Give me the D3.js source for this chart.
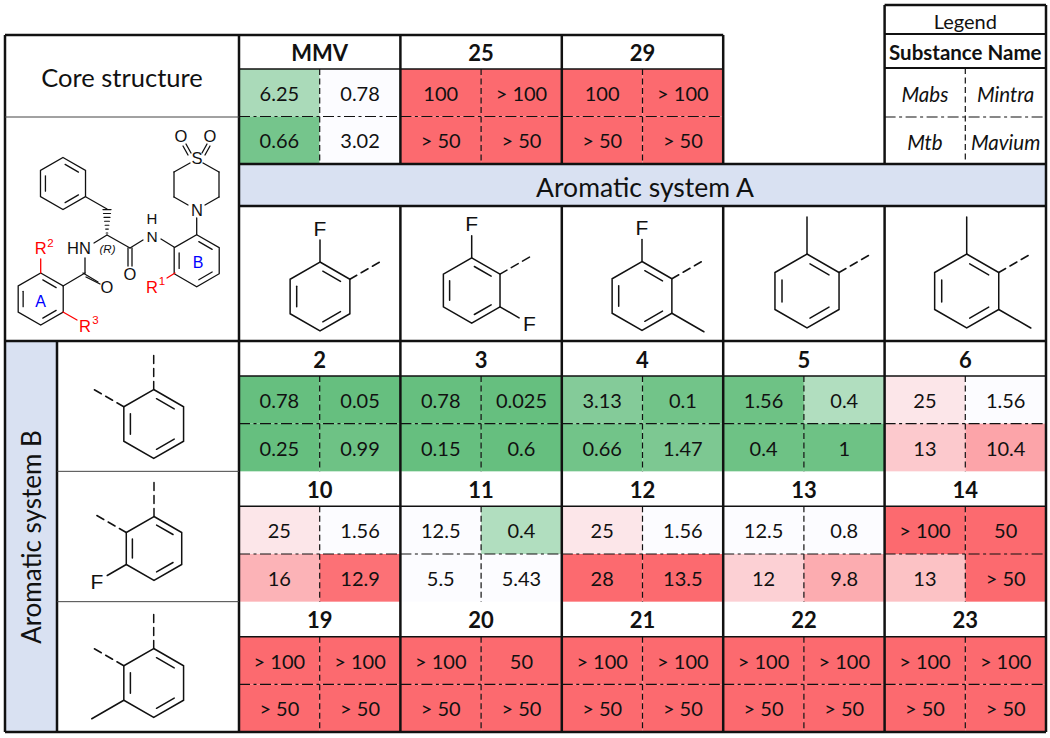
<!DOCTYPE html>
<html>
<head>
<meta charset="utf-8">
<script src="https://cdn.jsdelivr.net/npm/d3@7"></script>
<style>
  html, body { margin: 0; padding: 0; background: #fff; }
  svg { display: block; }
  text { font-family: Lato, sans-serif; fill: #111; }
  .atom { font-family: "Liberation Sans", Arial, sans-serif; }
</style>
</head>
<body>
<div id="vis"></div>
<script>
// compound names, the top block only uses the first three columns
const TOP_NAMES = ["MMV", "25", "29"];
const GRID_NAMES = [
  ["2", "3", "4", "5", "6"],
  ["10", "11", "12", "13", "14"],
  ["19", "20", "21", "22", "23"]
];

// each cell holds: Mabs, Mintra, Mtb, Mavium
const TOP_VALUES = [
  ["6.25", "0.78", "0.66", "3.02"],
  ["100", "> 100", "> 50", "> 50"],
  ["100", "> 100", "> 50", "> 50"]
];
const GRID_VALUES = [
  [["0.78", "0.05", "0.25", "0.99"], ["0.78", "0.025", "0.15", "0.6"], ["3.13", "0.1", "0.66", "1.47"], ["1.56", "0.4", "0.4", "1"], ["25", "1.56", "13", "10.4"]],
  [["25", "1.56", "16", "12.9"], ["12.5", "0.4", "5.5", "5.43"], ["25", "1.56", "28", "13.5"], ["12.5", "0.8", "12", "9.8"], ["> 100", "50", "13", "> 50"]],
  [["> 100", "> 100", "> 50", "> 50"], ["> 100", "50", "> 50", "> 50"], ["> 100", "> 100", "> 50", "> 50"], ["> 100", "> 100", "> 50", "> 50"], ["> 100", "> 100", "> 50", "> 50"]]
];

// shade, -1 full green, 0 white, 1 full red
const TOP_SHADES = [
  [-0.55, 0, -0.9, 0],
  [1, 1, 1, 1],
  [1, 1, 1, 1]
];
const GRID_SHADES = [
  [[-1, -1, -1, -0.95], [-1, -1, -1, -1], [-0.8, -0.92, -0.92, -0.85], [-0.95, -0.5, -0.95, -0.95], [0.15, 0, 0.35, 0.6]],
  [[0.15, 0, 0.5, 0.95], [0, -0.5, 0, 0], [0.15, 0, 1, 1], [0, 0, 0.3, 0.55], [1, 1, 0.4, 1]],
  [[1, 1, 1, 1], [1, 1, 1, 1], [1, 1, 1, 1], [1, 1, 1, 1], [1, 1, 1, 1]]
];

const LEGEND_NAMES = ["Mabs", "Mintra", "Mtb", "Mavium"];

const FRAME_WIDTH = 1050;
const FRAME_HEIGHT = 738;
const LEFT = 5, BAND_RIGHT = 57, GRID_LEFT = 239, RIGHT = 1046;
const TOP = 35, TOP_BOTTOM = 164, BAND_BOTTOM = 206, GRID_TOP = 341, BOTTOM = 732;
const HEADER = 34;
const DASH = "6 3.5", DASH_DOT = "11 3.5 3 3.5";

const FRAME = d3.select("#vis")
  .append("svg")
    .attr("width", FRAME_WIDTH)
    .attr("height", FRAME_HEIGHT);

const X_SCALE = d3.scaleBand().domain(d3.range(5)).range([GRID_LEFT, RIGHT]);
const Y_SCALE = d3.scaleBand().domain(d3.range(3)).range([GRID_TOP, BOTTOM]);
const COLOR = d3.scaleLinear().domain([-1, 0, 1]).range(["#66bf7f", "#fcfcff", "#fc6a6f"]);

function drawLine(g, x1, y1, x2, y2, width, dash, color) {
  g.append("line")
    .attr("x1", x1).attr("y1", y1).attr("x2", x2).attr("y2", y2)
    .attr("stroke", color || "#111")
    .attr("stroke-width", width)
    .attr("stroke-dasharray", dash || null);
}

function drawText(g, x, y, str, size, opts) {
  opts = opts || {};
  return g.append("text")
    .attr("x", x).attr("y", y)
    .attr("text-anchor", opts.anchor || "middle")
    .attr("dominant-baseline", "central")
    .attr("font-size", size)
    .attr("font-weight", opts.weight || null)
    .attr("font-style", opts.style || null)
    .attr("class", opts.cls || null)
    .style("fill", opts.color || null)
    .text(str);
}

// one compound block: name on top, four coloured cells under it
function drawCompound(name, values, shades, x, y, w, h, headH) {
  const g = FRAME.append("g");
  const cw = w / 2, ch = (h - headH) / 2;
  const cells = d3.range(4).map((i) => ({
    v: values[i], s: shades[i],
    x: x + (i % 2) * cw,
    y: y + headH + (i > 1 ? ch : 0)
  }));
  g.selectAll("rect").data(cells).enter().append("rect")
    .attr("x", (d) => d.x).attr("y", (d) => d.y)
    .attr("width", cw).attr("height", ch)
    .attr("fill", (d) => COLOR(d.s));
  g.selectAll("text.val").data(cells).enter().append("text")
    .attr("class", "val")
    .attr("x", (d) => d.x + cw / 2)
    .attr("y", (d) => d.y + ch / 2)
    .attr("text-anchor", "middle")
    .attr("dominant-baseline", "central")
    .attr("font-size", 20)
    .text((d) => d.v);
  drawText(g, x + cw, y + headH / 2 + 0.5, name, 22, {weight: 700});
  drawLine(g, x, y + headH, x + w, y + headH, 1.5);
  drawLine(g, x, y + headH + ch, x + w, y + headH + ch, 1.2, DASH_DOT);
  drawLine(g, x + cw, y + headH, x + cw, y + h, 1.2, DASH);
}

TOP_NAMES.forEach((name, i) => {
  drawCompound(name, TOP_VALUES[i], TOP_SHADES[i], X_SCALE(i), TOP, X_SCALE.bandwidth(), TOP_BOTTOM - TOP, HEADER);
});
GRID_NAMES.forEach((row, r) => {
  row.forEach((name, c) => {
    drawCompound(name, GRID_VALUES[r][c], GRID_SHADES[r][c], X_SCALE(c), Y_SCALE(r), X_SCALE.bandwidth(), Y_SCALE.bandwidth(), 35);
  });
});

// bands
FRAME.append("rect").attr("x", GRID_LEFT).attr("y", TOP_BOTTOM).attr("width", RIGHT - GRID_LEFT).attr("height", BAND_BOTTOM - TOP_BOTTOM).attr("fill", "#d9e1f2");
FRAME.append("rect").attr("x", LEFT).attr("y", GRID_TOP).attr("width", BAND_RIGHT - LEFT).attr("height", BOTTOM - GRID_TOP).attr("fill", "#d9e1f2");

const LABELS = FRAME.append("g");
drawText(LABELS, 645, 187, "Aromatic system A", 26.5);
drawText(LABELS, 0, 0, "Aromatic system B", 26).attr("transform", "translate(31,537) rotate(-90)");
drawText(LABELS, 122, 77, "Core structure", 25.5);

// table rules
const GRID = FRAME.append("g");
[[LEFT, TOP, X_SCALE(3), TOP], [GRID_LEFT, TOP_BOTTOM, RIGHT, TOP_BOTTOM], [GRID_LEFT, BAND_BOTTOM, RIGHT, BAND_BOTTOM],
 [LEFT, GRID_TOP, RIGHT, GRID_TOP], [LEFT, BOTTOM, RIGHT, BOTTOM], [LEFT, TOP, LEFT, BOTTOM], [GRID_LEFT, TOP, GRID_LEFT, BOTTOM],
 [BAND_RIGHT, GRID_TOP, BAND_RIGHT, BOTTOM], [RIGHT, 5, RIGHT, BOTTOM]].forEach((l) => drawLine(GRID, l[0], l[1], l[2], l[3], 2.5));
d3.range(1, 5).forEach((i) => {
  if (i !== 4) drawLine(GRID, X_SCALE(i), TOP, X_SCALE(i), TOP_BOTTOM, 2.5);
  drawLine(GRID, X_SCALE(i), BAND_BOTTOM, X_SCALE(i), BOTTOM, 2.5);
});
drawLine(GRID, LEFT, 117, GRID_LEFT, 117, 1, null, "#444");
Y_SCALE.domain().slice(1).forEach((r) => drawLine(GRID, BAND_RIGHT, Y_SCALE(r), GRID_LEFT, Y_SCALE(r), 1, null, "#444"));

// legend box
const LEGEND = FRAME.append("g");
const LX = X_SCALE(4), LW = X_SCALE.bandwidth();
drawLine(LEGEND, LX, 5, LX, TOP_BOTTOM, 2.5);
drawLine(LEGEND, LX, 5, RIGHT, 5, 2.5);
drawLine(LEGEND, LX, 34, RIGHT, 34, 2);
drawLine(LEGEND, LX, 68, RIGHT, 68, 2);
drawLine(LEGEND, LX, 117, RIGHT, 117, 1.2, DASH_DOT);
drawLine(LEGEND, LX + LW / 2, 68, LX + LW / 2, TOP_BOTTOM, 1.2, DASH);
drawText(LEGEND, LX + LW / 2, 21, "Legend", 20);
drawText(LEGEND, LX + LW / 2, 52, "Substance Name", 20.5, {weight: 700});
LEGEND_NAMES.forEach((n, i) => {
  drawText(LEGEND, LX + LW * (i % 2 ? 0.75 : 0.25), i > 1 ? 142 : 94, n, 20.5, {style: "italic"});
});

// structures
const MOL = FRAME.append("g").attr("fill", "none").attr("stroke-linecap", "round");

function ringPoints(cx, cy, r) {
  return d3.range(6).map((i) => {
    const a = (-90 + 60 * i) * Math.PI / 180;
    return [cx + r * Math.cos(a), cy + r * Math.sin(a)];
  });
}

// benzene ring, vertex 0 on top going clockwise
function drawRing(cx, cy, r, width) {
  const p = ringPoints(cx, cy, r);
  MOL.append("path")
    .attr("d", d3.line()(p) + "Z")
    .attr("stroke", "#111").attr("stroke-width", width).attr("fill", "none");
  [[0, 1], [2, 3], [4, 5]].forEach((e) => {
    const k = 0.78;
    const a = p[e[0]], b = p[e[1]];
    const ax = cx + (a[0] - cx) * k, ay = cy + (a[1] - cy) * k;
    const bx = cx + (b[0] - cx) * k, by = cy + (b[1] - cy) * k;
    drawLine(MOL, ax + (bx - ax) * 0.12, ay + (by - ay) * 0.12, bx - (bx - ax) * 0.12, by - (by - ay) * 0.12, width);
  });
  return p;
}

// bond leaving ring vertex v outward
function drawSub(p, v, cx, cy, len, width, dash, gap) {
  const dx = p[v][0] - cx, dy = p[v][1] - cy;
  const m = Math.hypot(dx, dy);
  const s = (gap || 0) / m, e = len / m;
  drawLine(MOL, p[v][0] + dx * s, p[v][1] + dy * s, p[v][0] + dx * e, p[v][1] + dy * e, width, dash);
}

// fragment: subs are [vertex, kind]
function drawFragment(cx, cy, r, subs) {
  const w = 1.5, p = drawRing(cx, cy, r, w);
  subs.forEach((s) => {
    const v = s[0], kind = s[1];
    if (kind === "dash") drawSub(p, v, cx, cy, 34, w, "8 5");
    if (kind === "me") drawSub(p, v, cx, cy, 37, w);
    if (kind === "f") {
      drawSub(p, v, cx, cy, 22, w);
      const a = (-90 + 60 * v) * Math.PI / 180;
      drawText(MOL, p[v][0] + 34 * Math.cos(a), p[v][1] + 34 * Math.sin(a), "F", 21, {cls: "atom"});
    }
  });
}

drawFragment(320, 296.5, 34.5, [[0, "f"], [1, "dash"]]);
drawFragment(471.7, 290.5, 32.7, [[0, "f"], [1, "dash"], [2, "f"]]);
drawFragment(642, 296, 34.5, [[0, "f"], [1, "dash"], [2, "me"]]);
drawFragment(807, 291, 37, [[0, "me"], [1, "dash"]]);
drawFragment(966.7, 291, 37, [[0, "me"], [1, "dash"], [2, "me"]]);
drawFragment(153.7, 424, 34.5, [[0, "dash"], [5, "dash"]]);
drawFragment(154, 548.5, 32, [[0, "dash"], [5, "dash"], [4, "f"]]);
drawFragment(153.7, 683, 34.5, [[0, "dash"], [5, "dash"], [4, "me"]]);

// core molecule
const CORE_W = 1.3;
drawRing(63, 183.5, 26, CORE_W);
drawRing(40.7, 299, 26, CORE_W);
drawRing(196.7, 260.7, 26, CORE_W);

const CORE_BONDS = [
  [63, 286, 85, 273], [85, 273, 85, 258], [94, 243, 107, 235], [107, 235, 130, 248], [130, 248, 143, 240],
  [161, 239, 174, 247], [196.7, 234.7, 196.7, 218], [86, 197, 107, 209],
  [86, 277, 100, 284], [83, 273, 98, 282],
  [128, 248, 128, 266], [132, 248, 132, 266],
  [203, 163, 219, 172], [219, 172, 219, 197], [219, 197, 205, 205], [190, 163, 174, 172], [174, 172, 174, 197], [174, 197, 188, 205],
  [191, 153, 186, 144], [188, 155, 183, 146], [202, 153, 207, 144], [205, 155, 210, 146]
];
CORE_BONDS.forEach((b) => drawLine(MOL, b[0], b[1], b[2], b[3], CORE_W));

// hashed stereo bond, wider towards the far end
d3.range(7).forEach((i) => {
  const hy = 233 - i * 3.9, hw = 0.8 + i * 0.55;
  drawLine(MOL, 107 - hw, hy, 107 + hw, hy, 1.1);
});

[[40.7, 273, 40.7, 259], [175, 273, 167, 278], [63, 312, 77, 320]].forEach((b) => drawLine(MOL, b[0], b[1], b[2], b[3], CORE_W, null, "#f00"));

[["O", 181, 136], ["O", 210, 136], ["S", 197, 158], ["N", 197, 210], ["O", 130, 274], ["O", 107, 287], ["HN", 79, 248]].forEach((t) => {
  drawText(MOL, t[1], t[2], t[0], 16.5, {cls: "atom"});
});
drawText(MOL, 152, 218, "H", 15, {cls: "atom"});
drawText(MOL, 152, 236, "N", 15.5, {cls: "atom"});
drawText(MOL, 107.5, 249, "(R)", 11.5, {cls: "atom", style: "italic"});

[["R", 40.7, 248, 16.5], ["2", 50.5, 243, 11.5], ["R", 152, 287, 16.5], ["1", 162, 281, 11.5], ["R", 85, 326, 16.5], ["3", 95.5, 320, 11.5]].forEach((t) => {
  drawText(MOL, t[1], t[2], t[0], t[3], {cls: "atom", color: "#f00"});
});
drawText(MOL, 40.7, 301, "A", 16, {cls: "atom", color: "#00f"});
drawText(MOL, 198, 262, "B", 16, {cls: "atom", color: "#00f"});
</script>
</body>
</html>
